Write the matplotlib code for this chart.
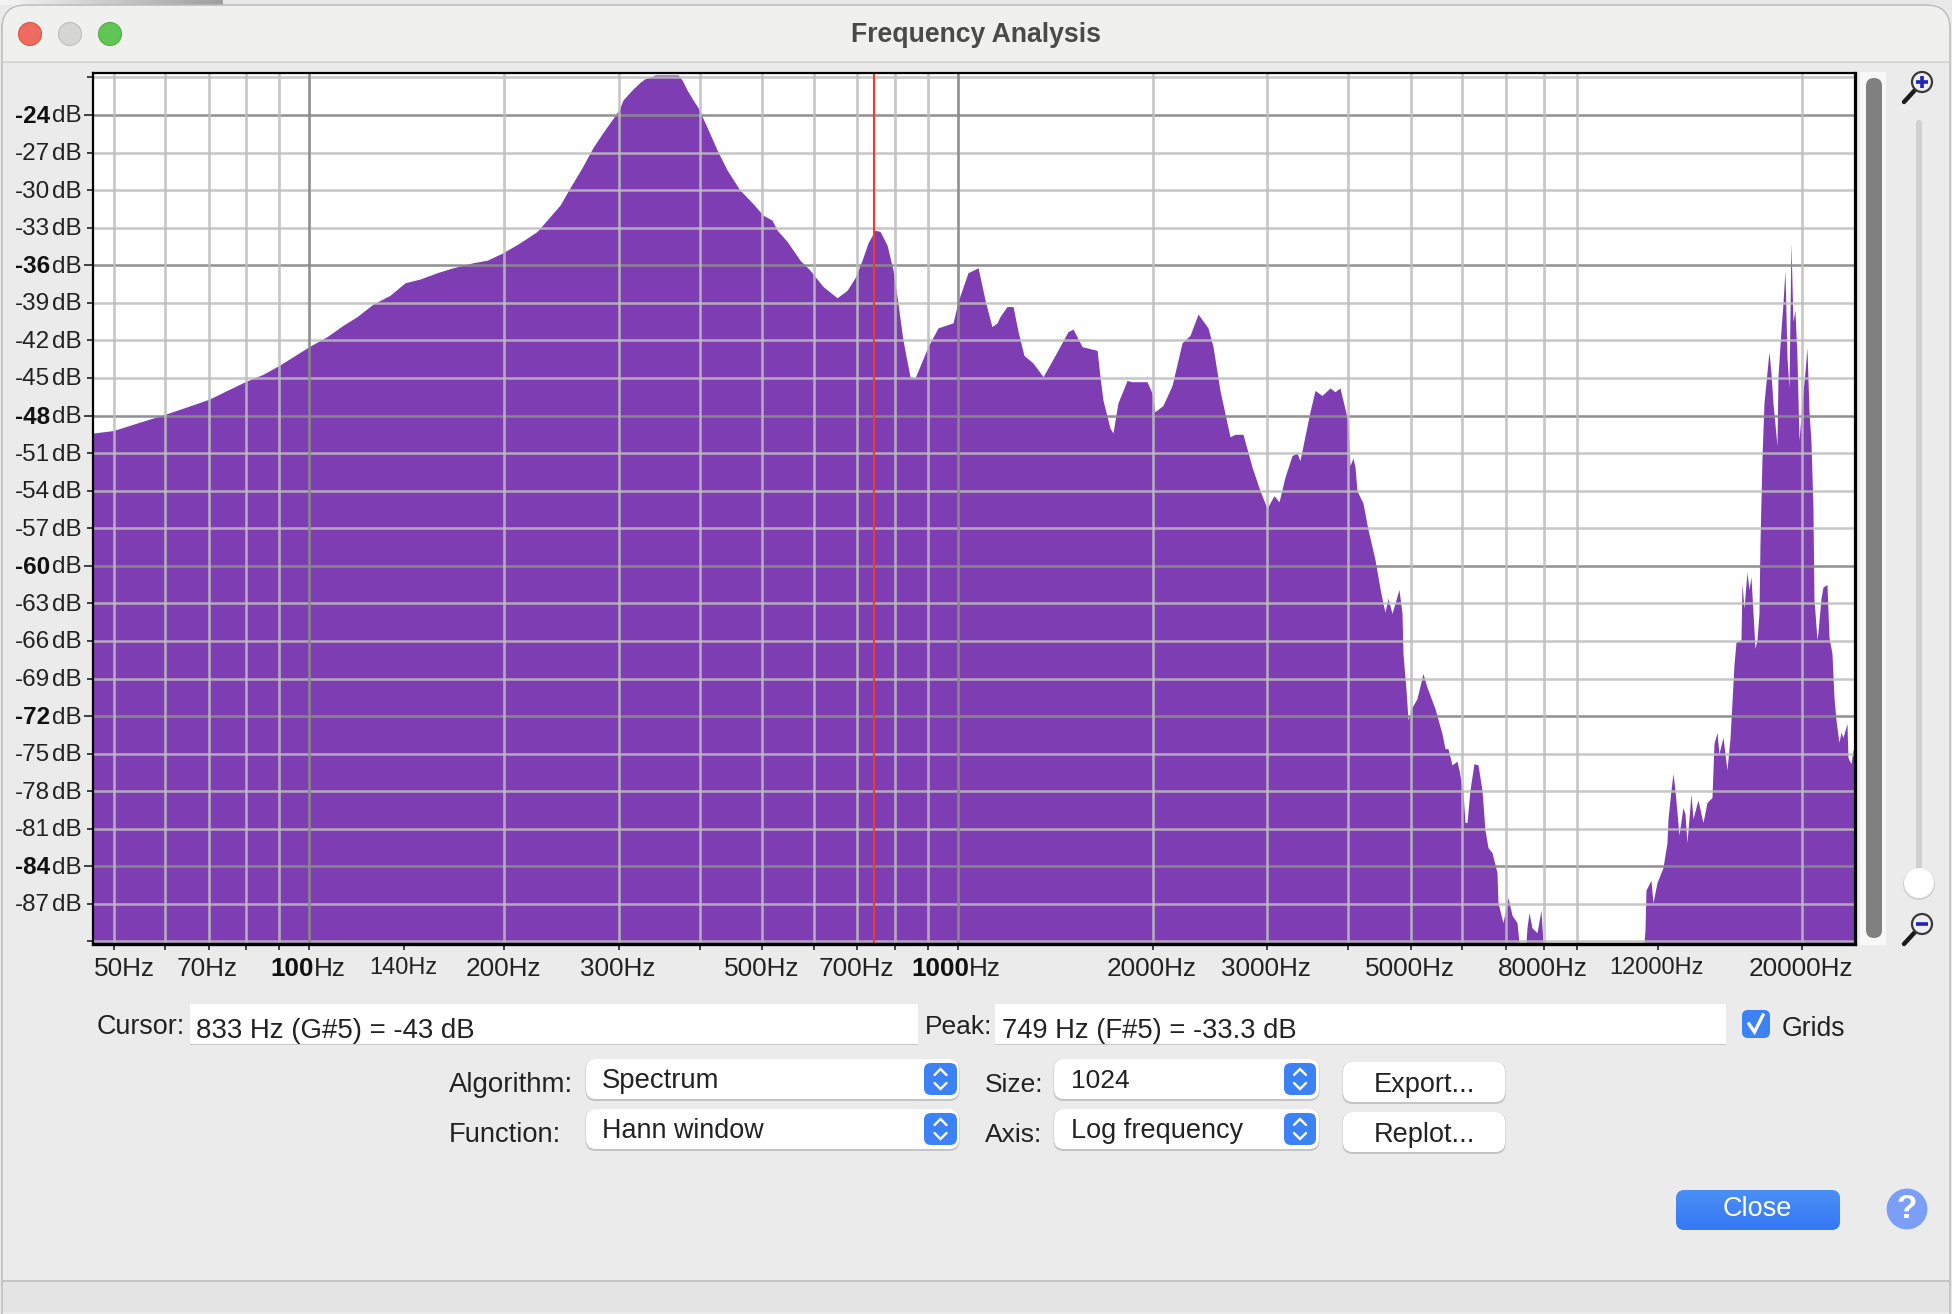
import numpy as np
import matplotlib
matplotlib.use("Agg")
import matplotlib.pyplot as plt
from matplotlib.patches import FancyBboxPatch, Circle, Rectangle
from matplotlib.ticker import NullLocator, NullFormatter

plt.rcParams['font.family'] = ['Liberation Sans', 'DejaVu Sans']

# ---------- data ----------
freq_hz = [46.5,49.9,54.3,60.0,64.9,70.1,74.7,79.7,85.0,89.9,94.5,100,106.6,112.8,118.6,125.5,133.3,140.6,148.3,157.5,166.7,179.0,188.1,199.1,211.5,
224.7,243.7,252.6,263.6,274.0,283.9,300.5,304.8,314.8,323.7,329.6,335.5,341.5,370.5,375.8,382.5,390.8,397.7,410.9,425.6,441.0,461.6,481.9,501.0,517.3,
526.7,545.7,571.3,592.0,620.0,651.6,675.2,694.5,712.0,727.5,745.8,759.1,778.2,795.0,
806.2,823.5,844.2,859.4,899.9,932.5,983.5,1001,1037,1075,1102,1129,1150,1162,1191,1217,1239,1265,1306,1354,1423,1479,1506,1555,1640,1657,
1675,1717,1735,1766,1824,1856,1958,1993,2014,2072,2140,2217,2281,2347,2431,2475,2537,2629,2676,2753,2842,2924,2998,3073,3128,3196,3276,3335,
3370,3419,3492,3555,3644,3749,3816,3884,3968,3996,4025,4068,4097,4126,4215,4290,4398,4477,4525,4557,4606,4672,4789,4841,4858,4910,4945,5016,
5105,5215,5290,5442,5579,5639,5699,5781,5884,5926,6011,6054,6097,6162,6250,6340,6430,6499,6569,6663,6782,6806,6928,7052,7153,7281,7333,7517,
7544,7598,7679,7817,7928,7985,11428,11468,11509,11715,11799,11967,12225,12400,12444,12577,12667,12757,12939,13124,13218,13312,13503,13599,13842,
14090,14292,14547,14651,14808,14913,15127,15343,15507,15618,15729,15841,16125,16182,16297,16472,16589,16707,16826,16946,17067,17189,17250,
17373,17496,17810,17937,18064,18323,18388,18585,18717,18850,18985,19120,19256,19393,19531,19671,19811,20023,20237,20381,20527,20673,20820,
20894,20968,21118,21193,21420,21572,21881,22037,22273,22431,22591,22833,22996,23160,23491,23574,23827,23996,24167]
level_db = [-49.4,-49.2,-48.6,-47.9,-47.3,-46.7,-46.0,-45.3,-44.7,-44.0,-43.3,-42.5,-41.7,-40.8,-40.1,-39.1,-38.4,-37.4,-37.1,-36.6,-36.2,-35.8,-35.6,-35.0,-34.2,
-33.3,-31.2,-29.8,-28.2,-26.6,-25.4,-23.6,-22.8,-22.0,-21.4,-21.1,-21.0,-20.8,-20.8,-21.2,-22.0,-22.8,-23.4,-25.0,-26.8,-28.4,-30.0,-31.0,-32.0,-32.4,
-33.2,-34.1,-35.6,-36.4,-37.7,-38.6,-38.0,-37.0,-35.6,-34.2,-33.2,-33.3,-34.4,-36.4,
-38.5,-42.0,-44.9,-45.0,-42.5,-41.0,-40.6,-38.9,-36.6,-36.2,-38.8,-40.9,-40.6,-40.1,
-39.3,-39.3,-41.3,-43.2,-43.8,-44.9,-42.9,-41.3,-41.1,-42.5,-42.8,-44.9,-46.8,-49.0,-49.4,-47.0,-45.2,-45.3,-45.3,-46.2,-47.7,-47.2,-45.6,-42.2,-41.6,
-39.9,-41.0,-42.5,-46.0,-49.7,-49.5,-49.5,-52.1,-54.0,-55.4,-54.4,-54.9,-52.9,-51.2,-51.0,-51.6,-50.0,-47.7,-46.0,-46.4,-45.8,-46.1,-45.8,-47.8,-48.6,
-52.0,-51.4,-52.1,-54.0,-55.0,-57.1,-59.5,-61.8,-63.0,-63.7,-62.6,-63.8,-61.9,-63.8,-67.0,-69.9,-72.3,-71.3,-70.6,-68.6,-69.7,-71.4,-73.4,-74.6,-74.6,
-75.9,-75.6,-76.3,-78.1,-80.5,-80.5,-77.9,-75.8,-75.9,-77.9,-81.1,-82.5,-82.9,-84.5,-86.9,-88.5,-86.5,-87.9,-88.5,-90.1,-90.1,-88.9,-87.7,-88.9,-89.3,
-87.5,-90.1,-90.1,-89.1,-85.9,-85.1,-86.9,-85.3,-84.1,-82.1,-80.2,-77.9,-76.6,-77.9,-81.5,-79.3,-79.8,-82.1,-78.2,-80.2,-78.7,-80.5,-78.9,-78.5,-74.2,
-73.3,-75.0,-73.7,-76.3,-73.8,-70.9,-67.9,-66.1,-65.9,-61.4,-63.4,-60.5,-61.9,-60.9,-63.7,-66.6,-65.9,-63.8,-58.2,-51.4,-47.0,-42.9,-44.6,-47.0,-50.4,
-44.9,-41.2,-39.0,-36.4,-43.3,-45.8,-34.2,-40.5,-39.6,-43.3,-50.0,-47.0,-44.5,-42.6,-47.6,-50.1,-55.4,-62.7,-63.7,-65.9,-65.3,-62.6,-61.7,-61.5,-65.7,
-67.0,-70.5,-72.3,-74.1,-73.3,-73.7,-72.6,-75.3,-75.8,-74.7,-75.1]

db_grid = list(range(-21, -91, -3))
db_major = [-24, -36, -48, -60, -72, -84]
db_labels = list(range(-24, -90, -3))
hz_grid = [50, 60, 70, 80, 90, 100, 200, 300, 400, 500, 600, 700, 800, 900, 1000,
           2000, 3000, 4000, 5000, 6000, 7000, 8000, 9000, 20000]
hz_major = [100, 1000]
hz_ticks = hz_grid + [140, 12000]
hz_labels = [50, 70, 100, 140, 200, 300, 500, 700, 1000, 2000, 3000, 5000, 8000, 12000, 20000]
hz_small = [140, 12000]
cursor_hz = 744
x_limits = (46.44, 24170)
y_limits = (-90.2, -20.65)

W, H = 1952, 1314
FILL = '#7f3db3'
TXT = '#222222'
BLUE = '#3c82f6'

fig = plt.figure(figsize=(W/100, H/100), dpi=100, facecolor='#e9e9e9')
bg = fig.add_axes([0, 0, 1, 1], zorder=0)
bg.set_xlim(0, W); bg.set_ylim(H, 0); bg.axis('off')


def rbox(x0, y0, x1, y1, r, fc, ec='none', lw=0, z=2, ax=bg):
    p = FancyBboxPatch((x0, y0), x1-x0, y1-y0, boxstyle=f'round,pad=0,rounding_size={r}',
                       fc=fc, ec=ec, lw=lw, zorder=z, mutation_aspect=1)
    ax.add_patch(p)
    return p


def shadowed(x0, y0, x1, y1, r):
    rbox(x0-.5, y0, x1+.5, y1+2, r, '#c4c4c4', z=2)
    rbox(x0, y0, x1, y1, r, 'white', z=3)


def label(x, y, s, size=19, color=TXT, ha='left', weight='normal', z=6):
    bg.text(x, y+2.5, s, fontsize=size, color=color, ha=ha, va='center', weight=weight, zorder=z)


def stepper(x0, y0, x1, y1):
    rbox(x0, y0, x1, y1, 7, BLUE, z=4)
    cx, cy = (x0+x1)/2, (y0+y1)/2
    for sgn in (-1, 1):
        bg.plot([cx-6, cx, cx+6], [cy+sgn*4, cy+sgn*10, cy+sgn*4], color='white', lw=1.7, zorder=5,
                solid_capstyle='round', solid_joinstyle='miter')


# window body
bg.add_patch(Rectangle((0, 0), W, 5, fc='#e8e8e8', ec='none', zorder=0))
grad = np.linspace(0.96, 0.62, 64).reshape(1, -1)
bg.imshow(grad, extent=(0, 223, 5, 0), cmap='gray', vmin=0, vmax=1, aspect='auto', zorder=0.5)
bg.set_xlim(0, W); bg.set_ylim(H, 0)
rbox(2, 5, W-2, H+30, 24, '#ebebeb', ec='#b8b8b8', lw=1, z=1)
rbox(3, 6, W-3, 90, 22, '#f0f0ef', z=1.1)
bg.add_patch(Rectangle((3, 62), W-6, 32, fc='#ebebeb', ec='none', zorder=1.2))
bg.plot([3, W-3], [62, 62], color='#d2d2d2', lw=1.2, zorder=1.3)
bg.add_patch(Rectangle((3, 1282), W-6, 30, fc='#e4e4e4', ec='none', zorder=1.2))
bg.plot([2, W-2], [1281, 1281], color='#c4c4c4', lw=1.4, zorder=1.3)
for cx, fc, ec in [(30, '#ee6b60', '#d9574c'), (70, '#d6d6d4', '#bdbdbb'), (110, '#60c554', '#52ad47')]:
    bg.add_patch(Circle((cx, 34), 11.5, fc=fc, ec=ec, lw=0.8, zorder=3))
bg.text(976, 34.5, 'Frequency Analysis', fontsize=19.2, color='#4a4a4a', ha='center', va='center',
        weight='bold', zorder=4)

# scrollbar and zoom slider
bg.add_patch(Rectangle((1860, 72), 26, 873, fc='#f8f8f8', ec='none', zorder=2))
rbox(1866, 78, 1882, 938, 8, '#808080', z=3)
rbox(1916, 120, 1922, 880, 3, '#d0d0d0', z=2)
bg.add_patch(Circle((1919, 884), 16, fc='#cfcfcf', ec='none', zorder=3))
bg.add_patch(Circle((1919, 883), 15, fc='white', ec='none', zorder=3.1))
for cy, is_plus in [(82, True), (924, False)]:
    bg.plot([1904, 1915], [cy+20, cy+8], color='#1c1c1c', lw=3.2, solid_capstyle='round', zorder=4)
    bg.add_patch(Circle((1922, cy), 10, fc='#ededf2', ec='#3a3a3a', lw=1.6, zorder=4.1))
    bg.plot([1916, 1928], [cy, cy], color='#2222bb', lw=2.6, zorder=4.2, solid_capstyle='butt')
    if is_plus:
        bg.plot([1922, 1922], [cy-6, cy+6], color='#2222bb', lw=2.6, zorder=4.2, solid_capstyle='butt')

# bottom controls
label(97, 1025, 'Cursor:', 19.4)
bg.add_patch(Rectangle((190, 1005), 728, 40, fc='#c9c9c9', ec='none', zorder=2))
bg.add_patch(Rectangle((190, 1004), 728, 39.5, fc='white', ec='none', zorder=3))
label(196.5, 1028, '833 Hz (G#5) = -43 dB', 19.9)
label(925, 1025, 'Peak:', 19)
bg.add_patch(Rectangle((995, 1005), 731, 40, fc='#c9c9c9', ec='none', zorder=2))
bg.add_patch(Rectangle((995, 1004), 731, 39.5, fc='white', ec='none', zorder=3))
label(1002, 1028, '749 Hz (F#5) = -33.3 dB', 19.7)
rbox(1742, 1010, 1770, 1038, 6, BLUE, z=3)
bg.plot([1749, 1754.5, 1763], [1024, 1032, 1015], color='white', lw=2.4, zorder=4, solid_joinstyle='miter')
label(1782, 1026, 'Grids', 19.2)

label(449, 1083, 'Algorithm:', 19.9)
label(449, 1133, 'Function:', 19.7)
label(985, 1083, 'Size:', 19)
label(985, 1133, 'Axis:', 19)
shadowed(586, 1059, 959, 1099, 10)
stepper(924, 1063, 957, 1095)
label(602, 1078, 'Spectrum', 19.8)
shadowed(586, 1109, 959, 1149, 10)
stepper(924, 1113, 957, 1145)
label(602, 1128, 'Hann window', 19.4)
shadowed(1054, 1059, 1319, 1099, 10)
stepper(1284, 1063, 1316, 1095)
label(1071, 1078, '1024', 19)
shadowed(1054, 1109, 1319, 1149, 10)
stepper(1284, 1113, 1316, 1145)
label(1071, 1128, 'Log frequency', 19.5)
shadowed(1343, 1062, 1505, 1102, 10)
label(1424, 1082, 'Export...', 19.5, ha='center')
shadowed(1343, 1112, 1505, 1152, 10)
label(1424, 1132, 'Replot...', 19.5, ha='center')

close_box = rbox(1676, 1190, 1840, 1230, 9, BLUE, z=3)
g = np.linspace(0, 1, 64).reshape(-1, 1)
top, bot = np.array([0x4a, 0x90, 0xf6]) / 255, np.array([0x35, 0x77, 0xf5]) / 255
rgb = (top[None, None, :] * (1 - g[:, :, None]) + bot[None, None, :] * g[:, :, None])
im = bg.imshow(rgb, extent=(1676, 1840, 1230, 1190), aspect='auto', zorder=3.1)
im.set_clip_path(close_box)
bg.set_xlim(0, W); bg.set_ylim(H, 0)
label(1757, 1207, 'Close', 19.5, color='white', ha='center')
bg.add_patch(Circle((1907, 1209), 21, fc='#7b9ff7', ec='#e8eefc', lw=0.8, zorder=3))
label(1907, 1207, '?', 24, color='white', ha='center', weight='bold')

# ---------- spectrum plot ----------
x0, x1, y0, y1 = 93, 1855, 73, 944
ax = fig.add_axes([x0/W, 1-y1/H, (x1-x0)/W, (y1-y0)/H], zorder=2)
ax.set_facecolor('white')
ax.set_xscale('log')
ax.set_xlim(*x_limits)
ax.set_ylim(*y_limits)
ax.fill_between(freq_hz, level_db, -100, color=FILL, lw=0, zorder=1)

for db in db_grid:
    major = db in db_major
    ax.axhline(db, color='#8a8a8a' if major else '#bdbdbd', alpha=.95 if major else .85,
               lw=1.8, zorder=2)
for hz in hz_grid:
    major = hz in hz_major
    ax.axvline(hz, color='#8a8a8a' if major else '#bdbdbd', alpha=.95 if major else .85,
               lw=1.9, zorder=2)
ax.axvline(cursor_hz, color='#ee3b2f', lw=1.5, zorder=3)

ax.set_xticks(hz_ticks)
ax.xaxis.set_minor_locator(NullLocator())
ax.xaxis.set_major_formatter(NullFormatter())
ax.xaxis.set_minor_formatter(NullFormatter())
ax.tick_params(axis='x', which='major', length=4.2, width=1.1, color='#111111', pad=0)
ax.set_yticks(db_grid)
ax.set_yticklabels([])
ax.tick_params(axis='y', which='major', left=True, right=True, length=4.3, width=1.1, color='#111111')
for tick, db in zip(ax.yaxis.get_major_ticks(), db_grid):
    if db in db_major:
        tick.tick1line.set_markersize(6.5)
    tick.tick2line.set_markersize(1.5)
for side, lw in [('left', 1.6), ('top', 1.6), ('right', 2.3), ('bottom', 2.4)]:
    ax.spines[side].set_linewidth(lw)
    ax.spines[side].set_color('black')
    ax.spines[side].set_zorder(5)

px = 0.72
ytr = ax.get_yaxis_transform()
xtr = ax.get_xaxis_transform()
for db in db_labels:
    ax.annotate('dB', xy=(0, db), xycoords=ytr, xytext=(-11*px, -1.5*px), textcoords='offset points',
                ha='right', va='center', fontsize=17.5, color=TXT, annotation_clip=False)
    ax.annotate(f'{db}', xy=(0, db), xycoords=ytr, xytext=(-43*px, -1.5*px), textcoords='offset points',
                ha='right', va='center', fontsize=17.5, color='#111111' if db in db_major else TXT,
                weight='bold' if db in db_major else 'normal', annotation_clip=False)
for hz in hz_labels:
    small = hz in hz_small
    size = 17 if small else 18.8
    dx = 10.5 if hz == 50 else -1
    dy = -23.5 if small else -24.5
    if hz in hz_major:
        split = (4.5 if hz == 100 else 11.5) * px
        ax.annotate(f'{hz}', xy=(hz, 0), xycoords=xtr, xytext=(split, dy*px),
                    textcoords='offset points', ha='right', va='center', fontsize=size, weight='bold',
                    color='#111111', annotation_clip=False)
        ax.annotate('Hz', xy=(hz, 0), xycoords=xtr, xytext=(split, dy*px),
                    textcoords='offset points', ha='left', va='center', fontsize=size, color=TXT,
                    annotation_clip=False)
    else:
        ax.annotate(f'{hz}Hz', xy=(hz, 0), xycoords=xtr, xytext=(dx*px, dy*px), textcoords='offset points',
                    ha='center', va='center', fontsize=size, color=TXT, annotation_clip=False)

fig.savefig('out.png', dpi=100, facecolor=fig.get_facecolor())
